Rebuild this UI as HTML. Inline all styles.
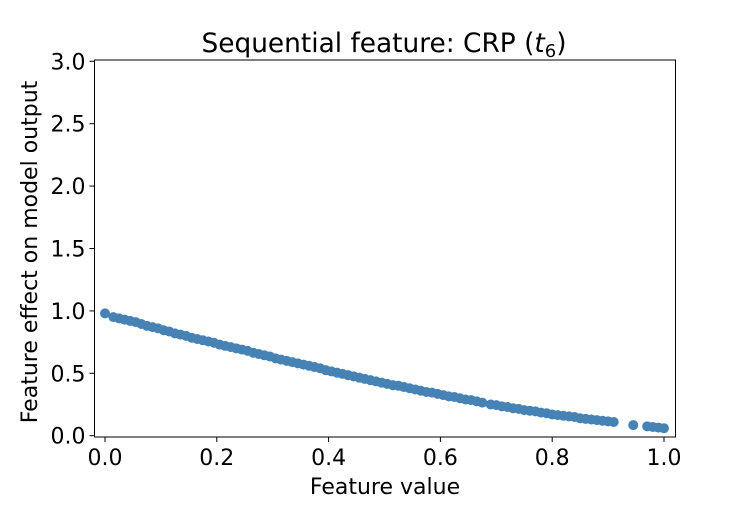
<!DOCTYPE html>
<html><head><meta charset="utf-8">
<style>
body{margin:0;background:#fff;}
svg text{font-family:"DejaVu Sans","Liberation Sans",sans-serif;fill:#000;}
</style></head>
<body>
<svg id="chart" width="750" height="500" viewBox="0 0 750 500" xmlns="http://www.w3.org/2000/svg">
<rect width="750" height="500" fill="#fff"/>
<g id="points"></g>
<g id="axes"></g>
<text x="384" y="52" font-size="26.4" text-anchor="middle">Sequential feature: CRP (<tspan font-style="italic">t</tspan><tspan font-size="18" dy="5">6</tspan><tspan dy="-5">)</tspan></text>
<text x="385" y="494" font-size="22" text-anchor="middle">Feature value</text>
<text x="0" y="0" font-size="22" text-anchor="middle" transform="translate(37,252) rotate(-90)">Feature effect on model output</text>
</svg>
<script>
const xValues=[0.0,0.015,0.025,0.035,0.045,0.055,0.065,0.075,0.085,0.095,0.105,0.115,0.125,0.135,0.145,0.155,0.165,0.175,0.185,0.195,0.205,0.215,0.225,0.235,0.245,0.255,0.265,0.275,0.285,0.295,0.305,0.315,0.325,0.335,0.345,0.355,0.365,0.375,0.385,0.395,0.405,0.415,0.425,0.435,0.445,0.455,0.465,0.475,0.485,0.495,0.505,0.515,0.525,0.535,0.545,0.555,0.565,0.575,0.585,0.595,0.605,0.615,0.625,0.635,0.645,0.655,0.665,0.675,0.69,0.70,0.71,0.72,0.73,0.74,0.75,0.76,0.77,0.78,0.79,0.80,0.81,0.82,0.83,0.84,0.85,0.86,0.87,0.88,0.89,0.90,0.91,0.945,0.97,0.98,0.99,1.0];
const yValues=[0.98,0.95,0.94,0.93,0.92,0.91,0.895,0.88,0.87,0.86,0.845,0.835,0.82,0.81,0.80,0.785,0.775,0.765,0.755,0.745,0.73,0.72,0.71,0.70,0.69,0.68,0.665,0.655,0.645,0.635,0.62,0.61,0.60,0.59,0.58,0.57,0.56,0.55,0.54,0.525,0.515,0.505,0.495,0.485,0.475,0.465,0.455,0.445,0.435,0.425,0.415,0.405,0.40,0.39,0.38,0.37,0.36,0.35,0.345,0.335,0.325,0.315,0.31,0.30,0.29,0.285,0.275,0.265,0.25,0.245,0.235,0.23,0.22,0.215,0.205,0.20,0.195,0.185,0.18,0.17,0.165,0.16,0.155,0.15,0.14,0.135,0.13,0.125,0.12,0.115,0.11,0.085,0.075,0.07,0.065,0.06];
const xTicks=[0,0.2,0.4,0.6,0.8,1.0];
const xTickLabels=["0.0","0.2","0.4","0.6","0.8","1.0"];
const yTicks=[0,0.5,1,1.5,2,2.5,3];
const yTickLabels=["0.0","0.5","1.0","1.5","2.0","2.5","3.0"];

const NS="http://www.w3.org/2000/svg";
const L=94.5,R=675.5,T=60,B=437;
function xs(v){return 105+v*559;}
function ys(v){return 435.7-v*124.8;}
const pg=document.getElementById('points');
for(let i=0;i<xValues.length;i++){
  const c=document.createElementNS(NS,'circle');
  c.setAttribute('cx',xs(xValues[i]));c.setAttribute('cy',ys(yValues[i]));
  c.setAttribute('r',5);c.setAttribute('fill','#4682b4');
  
  
  pg.appendChild(c);
}
const ag=document.getElementById('axes');
const fr=document.createElementNS(NS,'rect');
fr.setAttribute('x',L);fr.setAttribute('y',T);fr.setAttribute('width',R-L);fr.setAttribute('height',B-T);
fr.setAttribute('fill','none');fr.setAttribute('stroke','#000');fr.setAttribute('stroke-width','1');


ag.appendChild(fr);
xTicks.forEach((t,i)=>{
  const ln=document.createElementNS(NS,'line');
  ln.setAttribute('x1',xs(t));ln.setAttribute('x2',xs(t));ln.setAttribute('y1',B);ln.setAttribute('y2',B+5);
  ln.setAttribute('stroke','#000');
  
  
  ag.appendChild(ln);
  const tx=document.createElementNS(NS,'text');
  tx.setAttribute('x',xs(t));tx.setAttribute('y',B+28);tx.setAttribute('font-size','22');tx.setAttribute('text-anchor','middle');
  tx.textContent=xTickLabels[i];
  
  
  ag.appendChild(tx);
});
yTicks.forEach((t,i)=>{
  const ln=document.createElementNS(NS,'line');
  ln.setAttribute('x1',L-5);ln.setAttribute('x2',L);ln.setAttribute('y1',ys(t));ln.setAttribute('y2',ys(t));
  ln.setAttribute('stroke','#000');
  
  
  ag.appendChild(ln);
  const tx=document.createElementNS(NS,'text');
  tx.setAttribute('x',L-9);tx.setAttribute('y',ys(t)+8);tx.setAttribute('font-size','22');tx.setAttribute('text-anchor','end');
  tx.textContent=yTickLabels[i];
  
  
  ag.appendChild(tx);
});
</script>
</body></html>
